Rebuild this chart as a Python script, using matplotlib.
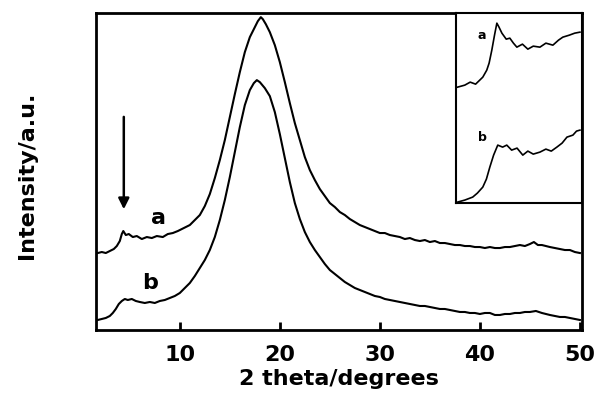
import matplotlib
matplotlib.use("Agg")
import matplotlib.pyplot as plt

# main XRD patterns (2 theta in degrees, intensity in a.u.)
two_theta_a = [1.8, 2.2, 2.6, 3.0, 3.4, 3.7, 4.0, 4.2, 4.35, 4.6, 4.9, 5.3, 5.7, 6.2, 6.7,
               7.2, 7.7, 8.3, 8.8, 9.3, 9.8, 10.4, 11.0, 11.5, 12.0, 12.5, 13.0, 13.5, 14.0,
               14.5, 15.0, 15.5, 16.0, 16.5, 17.0, 17.5, 17.8, 18.1, 18.3, 18.6, 19.0, 19.5,
               20.0, 20.5, 21.0, 21.5, 22.0, 22.5, 23.0, 23.5, 24.0, 24.5, 25.0, 25.5, 26.0,
               26.5, 27.0, 27.5, 28.0, 28.5, 29.0, 29.5, 30.0, 30.5, 31.0, 31.5, 32.0, 32.5,
               33.0, 33.5, 34.0, 34.5, 35.0, 35.5, 36.0, 36.5, 37.0, 37.5, 38.0, 38.5, 39.0,
               39.5, 40.0, 40.5, 41.0, 41.5, 42.0, 42.5, 43.0, 43.5, 44.0, 44.5, 45.0, 45.4,
               45.8, 46.2, 46.6, 47.0, 47.5, 48.0, 48.5, 49.0, 49.5, 50.0]
intensity_a = [77, 78, 77, 79, 81, 84, 89, 96, 99, 95, 96, 93, 94, 91, 93,
               92, 94, 93, 96, 97, 99, 102, 105, 110, 115, 124, 136, 152, 170,
               190, 213, 236, 258, 278, 293, 303, 309, 313, 311, 306, 298, 285,
               268, 248, 227, 207, 190, 173, 160, 150, 141, 134, 127, 123, 118,
               115, 111, 108, 105, 103, 101, 99, 97, 97, 95, 94, 93, 91,
               92, 90, 89, 90, 88, 89, 87, 87, 86, 85, 85, 84, 84,
               83, 83, 82, 83, 82, 82, 83, 83, 84, 85, 84, 86, 88,
               85, 85, 84, 83, 82, 81, 80, 80, 78, 77]

two_theta_b = [1.8, 2.2, 2.6, 3.0, 3.3, 3.6, 3.9, 4.2, 4.5, 4.8, 5.2, 5.6, 6.0, 6.5, 7.0,
               7.5, 8.0, 8.5, 9.0, 9.5, 10.0, 10.5, 11.0, 11.5, 12.0, 12.5, 13.0, 13.5, 14.0,
               14.5, 15.0, 15.5, 16.0, 16.5, 17.0, 17.4, 17.7, 18.0, 18.5, 19.0, 19.5, 20.0,
               20.5, 21.0, 21.5, 22.0, 22.5, 23.0, 23.5, 24.0, 24.5, 25.0, 25.5, 26.0, 26.5,
               27.0, 27.5, 28.0, 28.5, 29.0, 29.5, 30.0, 30.5, 31.0, 31.5, 32.0, 32.5, 33.0,
               33.5, 34.0, 34.5, 35.0, 35.5, 36.0, 36.5, 37.0, 37.5, 38.0, 38.5, 39.0, 39.5,
               40.0, 40.5, 41.0, 41.5, 42.0, 42.5, 43.0, 43.5, 44.0, 44.5, 45.0, 45.6, 46.2,
               46.6, 47.0, 47.5, 48.0, 48.5, 49.0, 49.5, 50.0]
intensity_b = [10, 11, 12, 14, 17, 21, 26, 29, 31, 30, 31, 29, 28, 27, 28,
               27, 29, 30, 32, 34, 37, 42, 47, 54, 62, 70, 80, 93, 110,
               130, 153, 178, 203, 225, 240, 247, 250, 248, 242, 234, 218, 196,
               172, 148, 127, 111, 98, 88, 80, 73, 66, 60, 56, 52, 48,
               45, 42, 40, 38, 36, 34, 33, 31, 30, 29, 28, 27, 26,
               25, 24, 24, 23, 22, 21, 21, 20, 19, 18, 18, 17, 17,
               16, 17, 17, 15, 15, 16, 16, 17, 17, 18, 18, 19, 17,
               16, 15, 14, 13, 13, 12, 11, 10]

# inset: low-angle region
inset_theta_a = [2.1, 2.5, 2.8, 3.1, 3.33, 3.5, 3.72, 3.85, 4.0, 4.15, 4.28, 4.4, 4.56, 4.8,
                 5.0, 5.2, 5.39, 5.7, 6.0, 6.3, 6.67, 7.0, 7.39, 7.7, 7.94, 8.3, 8.6, 8.89]
inset_int_a = [116, 118, 121, 119, 123, 126, 133, 140, 153, 168, 180, 176, 170, 164,
               165, 160, 156, 159, 154, 157, 156, 160, 158, 163, 166, 168, 170, 171]
inset_theta_b = [2.1, 2.5, 2.94, 3.2, 3.5, 3.7, 3.89, 4.1, 4.33, 4.6, 4.83, 5.1, 5.4, 5.72,
                 6.0, 6.3, 6.67, 7.0, 7.3, 7.61, 7.9, 8.17, 8.5, 8.7, 8.89]
inset_int_b = [1, 3, 6, 10, 16, 24, 36, 48, 58, 56, 58, 53, 55, 48,
               52, 49, 51, 54, 52, 56, 60, 66, 68, 72, 73]

plt.rcParams['font.family'] = ['DejaVu Sans']
fig = plt.figure(figsize=(5.95, 3.99), dpi=100)
ax = fig.add_axes([0.161, 0.173, 0.817, 0.794])

ax.plot(two_theta_a, intensity_a, color='black', lw=1.5)
ax.plot(two_theta_b, intensity_b, color='black', lw=1.5)
ax.set_xlim(1.6, 50.2)
ax.set_ylim(0, 317)
ax.set_xticks([10, 20, 30, 40, 50])
ax.set_yticks([])
ax.tick_params(axis='x', direction='in', length=6, width=2, pad=11,
               labelsize=16)
for lbl in ax.get_xticklabels():
    lbl.set_fontweight('bold')
for sp in ax.spines.values():
    sp.set_linewidth(2)
ax.set_xlabel('2 theta/degrees', fontsize=16, fontweight='bold', labelpad=3)
fig.text(0.045, 0.56, 'Intensity/a.u.', rotation=90, fontsize=16,
         fontweight='bold', ha='center', va='center')

ax.text(7.9, 112, 'a', fontsize=16, fontweight='bold', ha='center', va='center')
ax.text(7.0, 47, 'b', fontsize=16, fontweight='bold', ha='center', va='center')
ax.annotate('', xy=(4.4, 118), xytext=(4.4, 216),
            arrowprops=dict(arrowstyle='-|>', color='black', lw=1.8,
                            mutation_scale=16))

ins = fig.add_axes([0.766, 0.491, 0.212, 0.476])
ins.plot(inset_theta_a, inset_int_a, color='black', lw=1.2)
ins.plot(inset_theta_b, inset_int_b, color='black', lw=1.2)
ins.set_xlim(2, 9)
ins.set_ylim(0, 190)
ins.set_xticks([])
ins.set_yticks([])
for sp in ins.spines.values():
    sp.set_linewidth(1.5)
ins.text(3.45, 168, 'a', fontsize=9, fontweight='bold', ha='center', va='center')
ins.text(3.5, 66, 'b', fontsize=9, fontweight='bold', ha='center', va='center')

fig.savefig('out.png', dpi=100)
